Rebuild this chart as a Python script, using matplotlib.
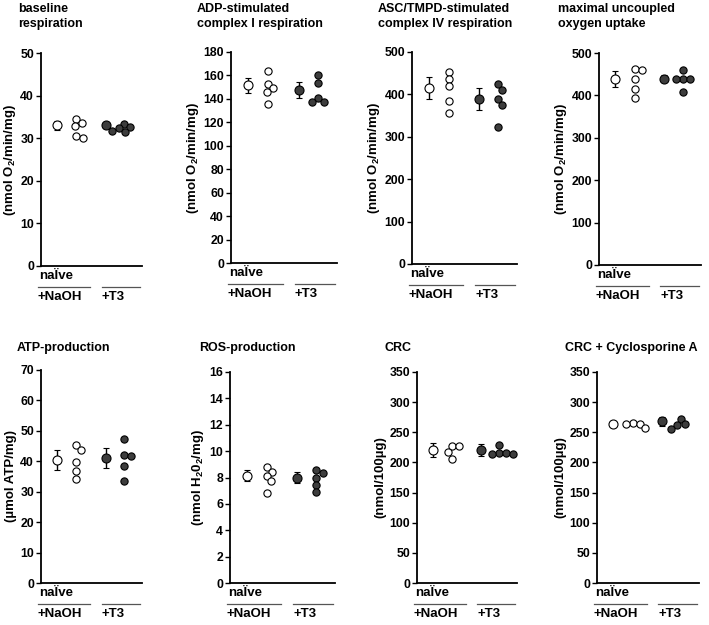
import numpy as np
import matplotlib.pyplot as plt

plt.rcParams['font.family'] = ['Liberation Sans', 'DejaVu Sans']
plt.rcParams['font.weight'] = 'bold'
plt.rcParams['axes.labelweight'] = 'bold'
plt.rcParams['font.size'] = 9
plt.rcParams['mathtext.fontset'] = 'custom'
plt.rcParams['mathtext.rm'] = 'Liberation Sans:bold'
plt.rcParams['mathtext.bf'] = 'Liberation Sans:bold'
plt.rcParams['mathtext.it'] = 'Liberation Sans:bold'

# ---- data ----
titles = ['baseline\nrespiration', 'ADP-stimulated\ncomplex I respiration',
          'ASC/TMPD-stimulated\ncomplex IV respiration', 'maximal uncoupled\noxygen uptake',
          'ATP-production', 'ROS-production', 'CRC', 'CRC + Cyclosporine A']
ylabels = [r'(nmol O$_{2}$/min/mg)'] * 4 + [r'(µmol ATP/mg)', r'(nmol H$_{2}$0$_{2}$/mg)',
                                           r'(nmol/100µg)', r'(nmol/100µg)']
ymax = [50, 180, 500, 500, 70, 16, 350, 350]
ystep = [10, 20, 100, 100, 10, 2, 50, 50]

naoh_mean = [33, 151.5, 415, 439, 40.5, 8.15, 220.5, 264.5]
naoh_sem = [1.0, 6.5, 26, 19, 3.2, 0.4, 12, 2]
t3_mean = [33, 147.5, 390, 439, 41.2, 8.0, 220, 268]
t3_sem = [0.6, 6.5, 26, 8, 3.3, 0.4, 10, 7]

naoh_pts = [[34.5, 33.5, 32.9, 30.6, 30.0],
            [164, 153, 149, 146, 135.5],
            [454, 437, 420, 385, 357],
            [463, 461, 439, 415, 395],
            [45.4, 43.8, 39.9, 36.7, 34.1],
            [8.8, 8.45, 8.1, 7.7, 6.8],
            [228, 227, 218, 206],
            [265, 264, 264, 257]]
t3_pts = [[33.4, 32.6, 32.3, 31.8, 31.5],
          [160, 153.4, 140.5, 137.6, 137.6],
          [425, 411, 389, 376, 322],
          [459, 439, 439, 438, 407],
          [47.3, 42.1, 41.6, 38.5, 33.6],
          [8.55, 8.35, 8.0, 7.45, 6.9],
          [229, 215, 215, 214, 214],
          [272, 263, 262, 256]]

# axes boxes in pixels (left, top, right, bottom)
W, H = 709, 625
boxes = [(41, 53, 142, 266), (231, 52, 337, 263), (412, 52, 517, 264), (599, 53, 701, 265),
         (41, 370, 142, 583), (230, 372, 335, 583), (417, 372, 517, 583), (597, 372, 699, 583)]
title_xy = [(18, 3), (197, 3), (378, 3), (558, 3),
            (17, 342), (199, 342), (384, 342), (565, 342)]

dark = '#3d3d3d'
DIAM = 7.0


def swarm(vals, h_px, top, w_px):
    # beeswarm: put each point at the smallest sideways shift that avoids overlap
    placed = []
    for v in vals:
        y = v / top * h_px
        cands = [0.0]
        for px, py in placed:
            dy = abs(y - py)
            if dy < DIAM:
                dx = np.sqrt(DIAM ** 2 - dy ** 2)
                cands += [px + dx, px - dx]
        cands.sort(key=lambda c: (round(abs(c), 3), -c))
        for c in cands:
            if all((c - px) ** 2 + (y - py) ** 2 >= DIAM ** 2 - 1e-6 for px, py in placed):
                break
        placed.append((c, y))
    return np.array([p[0] for p in placed]) * 5.0 / w_px


fig = plt.figure(figsize=(W / 100, H / 100), dpi=100)

for i in range(8):
    l, t, r, b = boxes[i]
    w_px, h_px = r - l, b - t
    ax = fig.add_axes([l / W, 1 - b / H, w_px / W, h_px / H])
    ax.set_xlim(0, 5)
    ax.set_ylim(0, ymax[i])
    ax.set_yticks(np.arange(0, ymax[i] + 1, ystep[i]))
    ax.set_xticks([])
    for s in ['top', 'right']:
        ax.spines[s].set_visible(False)
    for s in ['left', 'bottom']:
        ax.spines[s].set_linewidth(1.3)
    ax.tick_params(axis='y', length=3.5, width=1, pad=1.5, labelsize=8.8)
    ax.set_ylabel(ylabels[i], fontsize=9.5, labelpad=2)

    # means +- SEM
    ax.errorbar([0.8], [naoh_mean[i]], yerr=[naoh_sem[i]], fmt='o', ms=6.5, mfc='white',
                mec='black', mew=0.8, ecolor='black', elinewidth=1, capsize=2.2, capthick=1,
                clip_on=False, zorder=3)
    ax.errorbar([3.2], [t3_mean[i]], yerr=[t3_sem[i]], fmt='o', ms=6.5, mfc=dark,
                mec='black', mew=0.8, ecolor='black', elinewidth=1, capsize=2.2, capthick=1,
                clip_on=False, zorder=3)

    # individual values
    xo = swarm(naoh_pts[i], h_px, ymax[i], w_px)
    ax.plot(1.75 + xo, naoh_pts[i], 'o', ms=5.2, mfc='white', mec='black', mew=0.8,
            clip_on=False, zorder=4)
    xo = swarm(t3_pts[i], h_px, ymax[i], w_px)
    ax.plot(4.1 + xo, t3_pts[i], 'o', ms=5.2, mfc=dark, mec='black', mew=0.8,
            clip_on=False, zorder=4)

    # group labels under the axis
    ax.text(-0.02, -10 / h_px, 'naÏve', transform=ax.transAxes, ha='left', va='center',
            fontsize=9.5)
    ax.plot([-0.03, 0.49], [-21 / h_px] * 2, transform=ax.transAxes, color='#555555',
            lw=0.9, clip_on=False)
    ax.plot([0.60, 0.98], [-21 / h_px] * 2, transform=ax.transAxes, color='#555555',
            lw=0.9, clip_on=False)
    ax.text(-0.03, -31 / h_px, '+NaOH', transform=ax.transAxes, ha='left', va='center',
            fontsize=9.5)
    ax.text(0.60, -31 / h_px, '+T3', transform=ax.transAxes, ha='left', va='center',
            fontsize=9.5)

    tx, ty = title_xy[i]
    fig.text(tx / W, 1 - ty / H, titles[i], ha='left', va='top', fontsize=9,
             linespacing=1.3)

fig.savefig('out.png', dpi=100)
